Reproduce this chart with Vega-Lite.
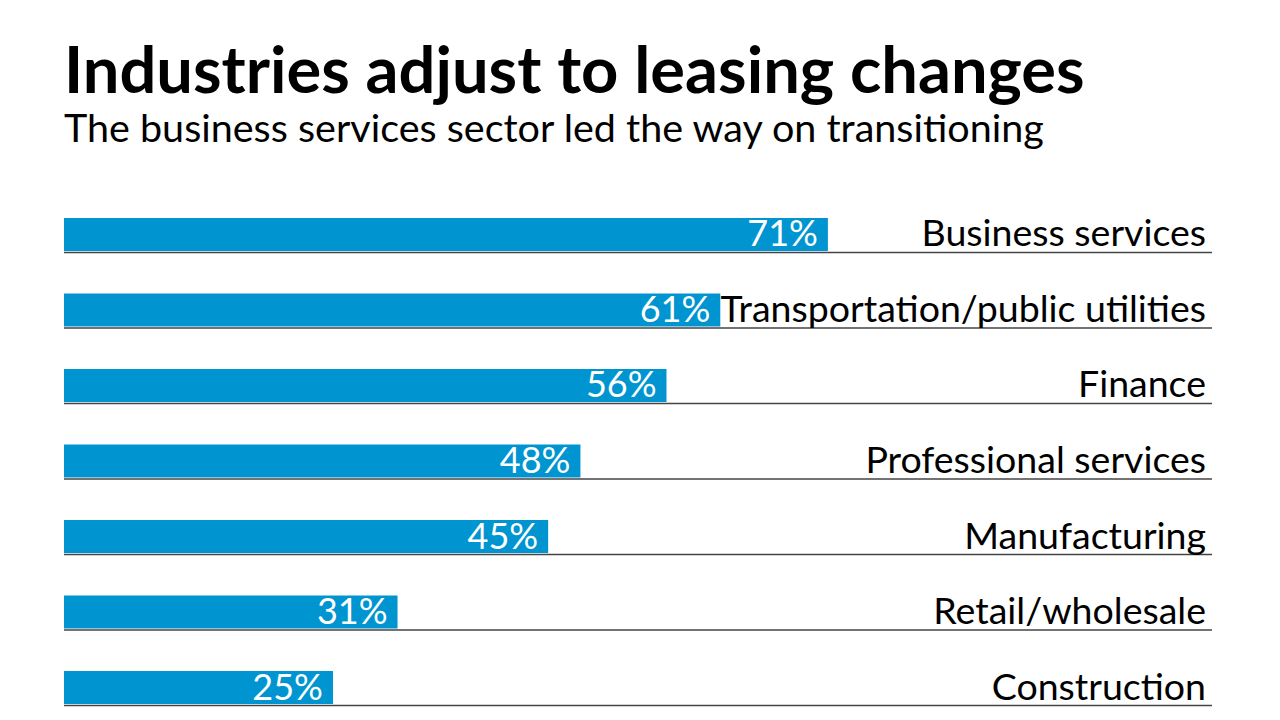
{
  "$schema": "https://vega.github.io/schema/vega-lite/v6.json",
  "autosize": "none",
  "width": 1148,
  "height": 502,
  "padding": {"left": 64, "top": 210, "right": 68, "bottom": 8},
  "background": "white",
  "config": {"view": {"stroke": null}, "font": "Lato"},
  "title": {
    "text": "Industries adjust to leasing changes",
    "subtitle": "The business services sector led the way on transitioning",
    "anchor": "start",
    "frame": "group",
    "font": "Lato",
    "fontSize": 65,
    "fontWeight": "bold",
    "color": "#000000",
    "subtitleFont": "Lato",
    "subtitleFontSize": 39.5,
    "subtitleColor": "#000000",
    "subtitlePadding": 4,
    "offset": 60
  },
  "data": {
    "values": [
      {"industry": "Business services", "share": 0.71},
      {"industry": "Transportation/public utilities", "share": 0.61},
      {"industry": "Finance", "share": 0.56},
      {"industry": "Professional services", "share": 0.48},
      {"industry": "Manufacturing", "share": 0.45},
      {"industry": "Retail/wholesale", "share": 0.31},
      {"industry": "Construction", "share": 0.25}
    ]
  },
  "encoding": {
    "y": {
      "field": "industry",
      "type": "nominal",
      "sort": null,
      "axis": null,
      "scale": {"paddingInner": 0.563, "paddingOuter": 0.106}
    }
  },
  "layer": [
    {
      "mark": {"type": "bar", "color": "#0095d1"},
      "encoding": {
        "x": {"field": "share", "type": "quantitative", "axis": null, "scale": {"domain": [0, 1.067], "nice": false, "zero": true}}
      }
    },
    {
      "mark": {"type": "rule", "color": "#444444", "strokeWidth": 1.5, "yOffset": 1.5},
      "encoding": {
        "y": {"field": "industry", "type": "nominal", "sort": null, "bandPosition": 1},
        "x": {"datum": 0, "type": "quantitative"},
        "x2": {"datum": 1.067}
      }
    },
    {
      "mark": {"type": "text", "align": "right", "baseline": "middle", "dx": -10, "dy": 1, "color": "white", "fontSize": 36, "font": "Lato"},
      "encoding": {
        "x": {"field": "share", "type": "quantitative"},
        "text": {"field": "share", "type": "quantitative", "format": ".0%"}
      }
    },
    {
      "mark": {"type": "text", "align": "right", "baseline": "middle", "dx": -6, "dy": 1, "color": "black", "fontSize": 37.5, "font": "Lato"},
      "encoding": {
        "x": {"datum": 1.067, "type": "quantitative"},
        "text": {"field": "industry", "type": "nominal"}
      }
    }
  ]
}
